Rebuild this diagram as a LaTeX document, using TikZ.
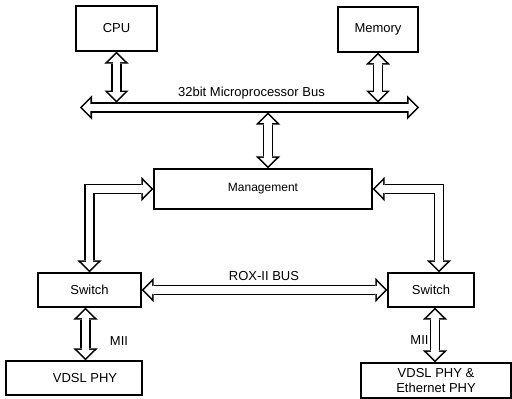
\documentclass[tikz,border=0pt]{standalone}
\usepackage{fontspec}
\setmainfont{Liberation Sans}
\usetikzlibrary{arrows.meta}
\tikzstyle{box}=[fill=white, draw=black, line width=1.4pt, shape=rectangle, inner sep=0pt, font=\fontsize{13}{15}\selectfont]
\tikzstyle{bus text}=[anchor=base, font=\fontsize{13}{15}\selectfont]
\tikzstyle{wide arrow}=[draw=white, line width=7.3pt, line join=miter, shorten <=2.2pt, shorten >=2.2pt,
  {Triangle[width=16.7pt,length=8.2pt,line width=0pt]}-{Triangle[width=16.7pt,length=8.2pt,line width=0pt]},
  preaction={draw=black, line width=10.5pt, shorten <=0pt, shorten >=0pt,
  {Triangle[width=24.5pt,length=12pt,line width=0pt]}-{Triangle[width=24.5pt,length=12pt,line width=0pt]}}]
\pgfdeclarelayer{nodelayer}
\pgfdeclarelayer{edgelayer}
\pgfsetlayers{nodelayer,edgelayer,main}
\begin{document}
\begin{tikzpicture}[x=1pt, y=-1pt]
    	\useasboundingbox (0,0) rectangle (512,399);
    	\begin{pgfonlayer}{nodelayer}
    		\node [style=box, minimum width=81pt, minimum height=45pt] (cpu) at (116.5, 28.5) {CPU};
    		\node [style=box, minimum width=80pt, minimum height=45pt] (mem) at (378, 29.5) {Memory};
    		\node [style=box, minimum width=218pt, minimum height=40pt, font=\fontsize{12}{14}\selectfont] (mgmt) at (263, 189) {Management};
    		\node [style=box, minimum width=103pt, minimum height=34pt] (swl) at (89.5, 290) {Switch};
    		\node [style=box, minimum width=86pt, minimum height=34pt] (swr) at (431, 290) {Switch};
    		\node [style=box, minimum width=136pt, minimum height=34pt] (phyl) at (74, 378) {\hspace*{22pt}VDSL PHY};
    		\node [style=box, minimum width=150pt, minimum height=35pt, align=center] (phyr) at (436, 380.5) {VDSL PHY \&\\Ethernet PHY};
    		\coordinate (busl) at (80, 107.5);
    		\coordinate (busr) at (419, 107.5);
    		\coordinate (bustop) at (268, 102.5);
    		\coordinate (busbot) at (268, 112.5);
    		\node [style=bus text] (bustext) at (251.5, 96) {32bit Microprocessor Bus};
    		\node [style=bus text] (roxtext) at (264, 280) {ROX-II BUS};
    		\node [style=bus text] (miil) at (119, 345) {MII};
    		\node [style=bus text] (miir) at (419.5, 344) {MII};
    	\end{pgfonlayer}
    	\begin{pgfonlayer}{edgelayer}
    		\draw [style=wide arrow] (busl) -- (busr);
    		\draw [style=wide arrow] (cpu.south) -- (cpu.south |- bustop);
    		\draw [style=wide arrow] (mem.south) -- (mem.south |- bustop);
    		\draw [style=wide arrow] (busbot) -- (busbot |- mgmt.north);
    		\draw [style=wide arrow] (mgmt.west) -| (swl.north);
    		\draw [style=wide arrow] (mgmt.east) -| ([xshift=8pt]swr.north);
    		\draw [style=wide arrow] (swl.east) -- (swr.west);
    		\draw [style=wide arrow] ([xshift=-4pt]swl.south) -- ([xshift=-4pt]swl.south |- phyl.north);
    		\draw [style=wide arrow] ([xshift=4pt]swr.south) -- ([xshift=4pt]swr.south |- phyr.north);
    	\end{pgfonlayer}
    \end{tikzpicture}
\end{document}
